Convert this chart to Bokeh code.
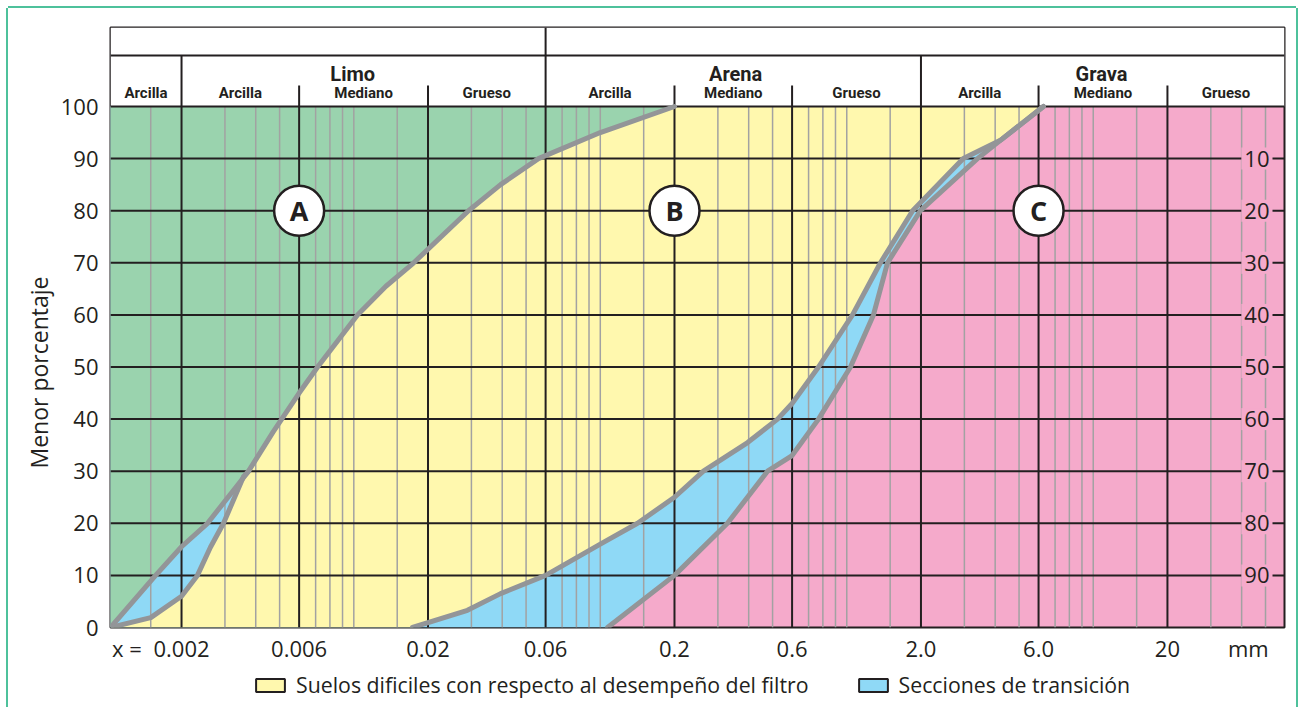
import numpy as np
from bokeh.plotting import figure
from bokeh.models import Range1d, FixedTicker, Legend, LegendItem, Title
from bokeh.layouts import column
from bokeh.embed import file_html
from bokeh.resources import INLINE
from bokeh.core.properties import value

# ---------------- data ----------------
x_major = [0.002, 0.006, 0.02, 0.06, 0.2, 0.6, 2.0, 6.0, 20.0]
x_major_labels = ["0.002", "0.006", "0.02", "0.06", "0.2", "0.6", "2.0", "6.0", "20"]
x_minor = [0.0015, 0.003, 0.004, 0.005, 0.007, 0.008, 0.009, 0.01, 0.015,
           0.03, 0.04, 0.05, 0.07, 0.08, 0.09, 0.1, 0.15,
           0.3, 0.4, 0.5, 0.7, 0.8, 0.9, 1.0, 1.5,
           3.0, 4.0, 5.0, 7.0, 8.0, 9.0, 10.0, 15.0,
           30.0, 40.0, 50.0]
y_ticks = [0, 10, 20, 30, 40, 50, 60, 70, 80, 90, 100]
y_grid = [10, 20, 30, 40, 50, 60, 70, 80, 90]
right_labels = ["10", "20", "30", "40", "50", "60", "70", "80", "90"]
right_label_y = [90, 80, 70, 60, 50, 40, 30, 20, 10]

header_groups = ["Limo", "Arena", "Grava"]
header_group_x = [0.0099, 0.354, 10.8]
header_subs = ["Arcilla", "Arcilla", "Mediano", "Grueso", "Arcilla",
               "Mediano", "Grueso", "Arcilla", "Mediano", "Grueso"]

# curve 1: upper boundary of zone A (green)
curve1_x = [0.00103, 0.00157, 0.002, 0.00255, 0.00374, 0.0047, 0.006, 0.00713, 0.01035,
            0.0135, 0.0175, 0.0292, 0.0394, 0.0561, 0.1, 0.2]
curve1_y = [0, 10, 15.5, 20, 30, 37.5, 45, 50, 60, 65.5, 70, 80, 85, 90, 95, 100]
# curve 2: lower boundary of the first transition section
curve2_x = [0.00103, 0.0015, 0.002, 0.00232, 0.00262, 0.00296, 0.00357, 0.00374]
curve2_y = [0, 1.9, 6, 10, 15.4, 20, 29, 30]
# curve 3: boundary B / transition
curve3_x = [0.0173, 0.0289, 0.0394, 0.06, 0.100, 0.1416, 0.2, 0.262, 0.396,
            0.524, 0.6, 0.768, 1.055, 1.37, 1.85, 2.97, 4.2, 6.28]
curve3_y = [0, 3.3, 6.5, 10, 16, 20, 25, 30, 35.5, 40, 43, 50, 60, 70, 80, 90, 93.5, 100]
# curve 4: transition / zone C (pink)
curve4_x = [0.107, 0.2, 0.328, 0.477, 0.6, 0.768, 1.035, 1.283, 1.463, 1.99, 3.39, 4.2, 6.28]
curve4_y = [0, 10, 20, 30, 33, 40, 50, 60, 70, 80, 90, 93.5, 100]

zone_letters = ["A", "B", "C"]
zone_x = [0.006, 0.2, 6.0]
zone_y = [80, 80, 80]

legend_labels = ["Suelos dificiles con respecto al desempeño del filtro",
                 "Secciones de transición"]

# ---------------- styling ----------------
GREEN = "#9AD3AE"
YELLOW = "#FFF8AE"
BLUE = "#8FD9F6"
PINK = "#F5AACB"
CURVE = "#939598"
INK = "#231F20"
MINOR = "#A2A2A2"
TEAL = "#4DC19B"
FONT = "Open Sans"
HFONT = "Roboto"

X_MIN, X_MAX = 0.00103, 59.7
W = 1288
LEFT, RIGHT = 102, 12
FRAME_W = W - LEFT - RIGHT
PX_DEC = FRAME_W / (np.log10(X_MAX) - np.log10(X_MIN))
X_EQ = 0.0012     # position of the "x =" prefix
X_MM = 42.6       # position of the unit "mm"
RLAB_X = X_MAX / 10 ** (12 / PX_DEC)

PLOT_H = 521                  # pixels for 0..100 %
PX_U = PLOT_H / 100.0         # pixels per percent
HDR_TOP = 100 + 79 / PX_U     # header box top
HDR_MID = 100 + 51 / PX_U     # line between the two header rows
HDR_TICK = 100 + 21 / PX_U    # short dividers
SUB_Y = 100 + 13.5 / PX_U     # sub-class labels
GRP_Y = 100 + 32.5 / PX_U     # class labels
FRAME_H = int(round(HDR_TOP * PX_U))
TOP_B, BOT_B = 19, 40

# ---------------- chart (header + plot) ----------------
p = figure(width=W, height=TOP_B + FRAME_H + BOT_B, x_axis_type="log",
           x_range=Range1d(X_MIN, X_MAX), y_range=Range1d(0, HDR_TOP),
           toolbar_location=None, output_backend="svg",
           min_border_left=LEFT, min_border_right=RIGHT, min_border_top=TOP_B,
           min_border_bottom=BOT_B)
p.grid.visible = False
p.background_fill_color = PINK
p.border_fill_color = "white"
p.outline_line_color = INK
p.outline_line_width = 2

# filled zones (drawn from right to left)
p.patch(x=curve4_x + [X_MIN, X_MIN], y=curve4_y + [100, 0],
        fill_color=BLUE, line_color=None)
p.patch(x=curve3_x + [X_MIN, X_MIN], y=curve3_y + [100, 0],
        fill_color=YELLOW, line_color=None)
upper_x = [x for x, y in zip(curve1_x, curve1_y) if y > curve2_y[-1]]
upper_y = [y for y in curve1_y if y > curve2_y[-1]]
p.patch(x=curve2_x + upper_x + [X_MIN, X_MIN], y=curve2_y + upper_y + [100, 0],
        fill_color=BLUE, line_color=None)
p.patch(x=curve1_x + [X_MIN, X_MIN], y=curve1_y + [100, 0],
        fill_color=GREEN, line_color=None)

# grid
p.segment(x0=x_minor, y0=[0] * len(x_minor), x1=x_minor, y1=[100] * len(x_minor),
          line_color=MINOR, line_width=1.5)
p.segment(x0=x_major, y0=[0] * len(x_major), x1=x_major, y1=[100] * len(x_major),
          line_color=INK, line_width=2)
p.segment(x0=[X_MIN] * len(y_grid), y0=y_grid, x1=[X_MAX] * len(y_grid), y1=y_grid,
          line_color=INK, line_width=2)

# header box
p.quad(left=[X_MIN], right=[X_MAX], bottom=[100], top=[HDR_TOP],
       fill_color="white", line_color=None)
p.segment(x0=[X_MIN, X_MIN], y0=[100, HDR_MID], x1=[X_MAX, X_MAX], y1=[100, HDR_MID],
          line_color=INK, line_width=2)
full_div = [0.002, 0.06, 2.0]
p.segment(x0=full_div, y0=[100] * 3, x1=full_div, y1=[HDR_MID] * 3,
          line_color=INK, line_width=2)
p.segment(x0=[0.06], y0=[HDR_MID], x1=[0.06], y1=[HDR_TOP], line_color=INK, line_width=2)
short_div = [0.006, 0.02, 0.2, 0.6, 6.0, 20.0]
p.segment(x0=short_div, y0=[100] * 6, x1=short_div, y1=[HDR_TICK] * 6,
          line_color=INK, line_width=2)
bounds = [X_MIN] + x_major + [X_MAX]
sub_x = [float(np.sqrt(bounds[i] * bounds[i + 1])) for i in range(len(bounds) - 1)]
p.text(x=sub_x, y=[SUB_Y] * len(sub_x), text=header_subs, text_align="center",
       text_baseline="middle", text_font=value(HFONT), text_font_style="bold",
       text_font_size="15px", text_color=INK)
p.text(x=header_group_x, y=[GRP_Y] * 3, text=header_groups, text_align="center",
       text_baseline="middle", text_font=value(HFONT), text_font_style="bold",
       text_font_size="20px", text_color=INK)

# curves
for cx, cy in [(curve1_x, curve1_y), (curve2_x, curve2_y),
               (curve3_x, curve3_y), (curve4_x, curve4_y)]:
    p.line(cx, cy, line_color=CURVE, line_width=5, line_cap="round", line_join="round")

# right-hand complementary scale
p.text(x=[RLAB_X] * len(right_labels), y=right_label_y, text=right_labels,
       text_align="right", text_baseline="middle", text_font=value(FONT),
       text_font_size="22px", text_color=INK, background_fill_color=PINK, padding=3)

# zone markers
p.scatter(zone_x, zone_y, size=50, marker="circle", fill_color="white",
          line_color=INK, line_width=2.5)
p.text(x=zone_x, y=zone_y, text=zone_letters, text_align="center",
       text_baseline="middle", text_font=value(FONT), text_font_style="bold",
       text_font_size="27px", text_color=INK)

# axes
ya = p.yaxis[0]
ya.ticker = FixedTicker(ticks=y_ticks)
ya.axis_line_color = None
ya.major_tick_line_color = None
ya.minor_tick_line_color = None
ya.major_tick_out = 0
ya.major_tick_in = 0
ya.minor_tick_out = 0
ya.major_label_text_font = FONT
ya.major_label_text_font_size = "22px"
ya.major_label_text_color = INK
ya.major_label_standoff = 12

ytitle = Title(text="Menor porcentaje", align="left", vertical_align="middle",
               offset=159, text_font=FONT, text_font_size="23px",
               text_font_style="normal", text_color=INK, standoff=4)
p.add_layout(ytitle, "left")

xa = p.xaxis[0]
xa.ticker = FixedTicker(ticks=[X_EQ] + x_major + [X_MM])
overrides = {X_EQ: "x =", X_MM: "mm"}
overrides.update({t: l for t, l in zip(x_major, x_major_labels)})
xa.major_label_overrides = overrides
xa.axis_line_color = None
xa.major_tick_line_color = None
xa.minor_tick_line_color = None
xa.major_tick_out = 0
xa.major_tick_in = 0
xa.minor_tick_out = 0
xa.major_label_text_font = FONT
xa.major_label_text_font_size = "22px"
xa.major_label_text_color = INK
xa.major_label_standoff = 5

# ---------------- legend strip ----------------
lg = figure(width=W, height=40, x_range=Range1d(0, 1), y_range=Range1d(0, 1),
            x_axis_location=None, y_axis_location=None, toolbar_location=None,
            output_backend="svg", min_border_left=LEFT, min_border_right=RIGHT,
            min_border_top=0, min_border_bottom=0)
lg.grid.visible = False
lg.outline_line_color = None
lg.background_fill_color = "white"
lg.border_fill_color = "white"
# legend proxies (kept outside the visible range of this strip)
r_y = lg.quad(left=[5], right=[6], top=[6], bottom=[5], fill_color=YELLOW,
              line_color=INK, line_width=2)
r_b = lg.quad(left=[5], right=[6], top=[6], bottom=[5], fill_color=BLUE,
              line_color=INK, line_width=2)
legend = Legend(items=[LegendItem(label=legend_labels[0], renderers=[r_y]),
                       LegendItem(label=legend_labels[1], renderers=[r_b])],
                orientation="horizontal", location=(142, 8),
                glyph_width=36, glyph_height=16, label_standoff=8, spacing=46,
                label_text_font=FONT, label_text_font_size="21.3px", label_text_color=INK,
                border_line_color=None, background_fill_alpha=0, margin=0, padding=0)
lg.add_layout(legend)

layout = column(p, lg, styles={
    "margin": "8px 0 0 8px",
    "box-shadow": f"-2px 0 0 0 {TEAL}, 2px 0 0 0 {TEAL}, 0 -2px 0 0 {TEAL}"})

open("out.html", "w").write(file_html(layout, INLINE))
